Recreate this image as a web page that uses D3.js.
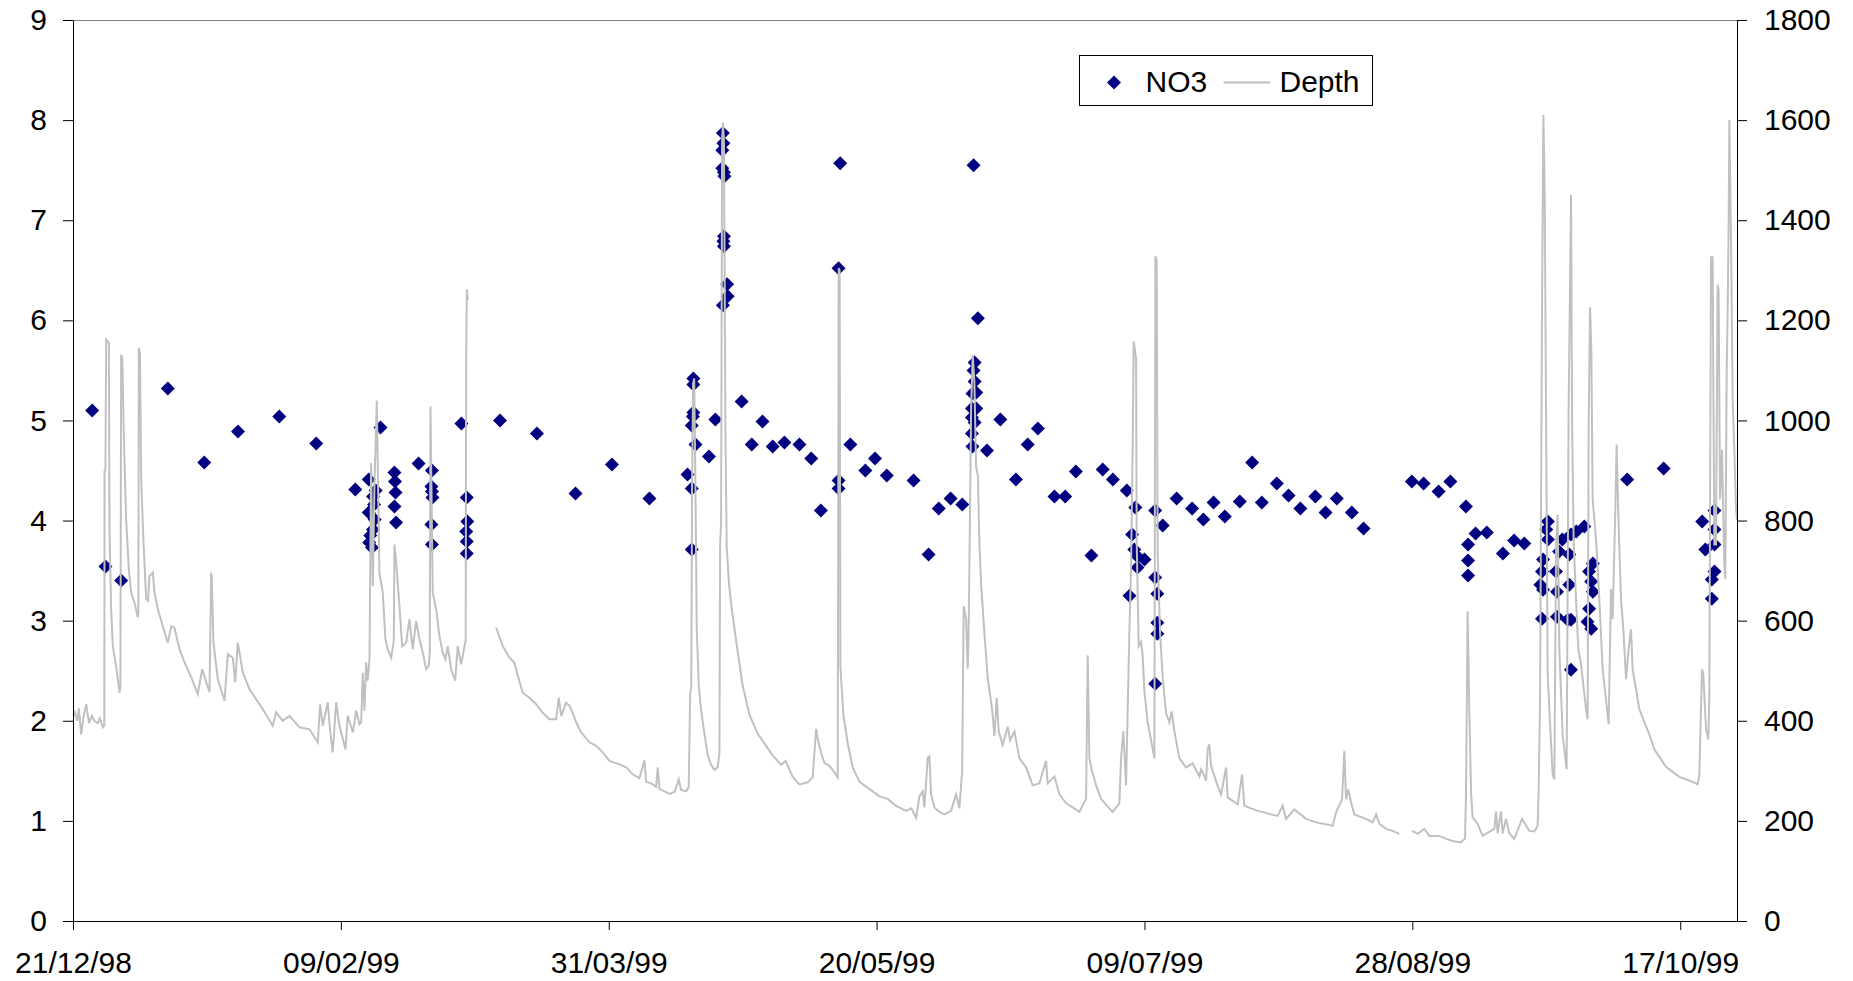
<!DOCTYPE html>
<html>
<head>
<meta charset="utf-8">
<script src="https://cdn.jsdelivr.net/npm/d3@7"></script>
<style>
  body { margin: 0; background: #fff; }
  #app svg { display: block; font-family: "Liberation Sans", Arial, sans-serif; }
</style>
</head>
<body>
<div id="app"></div>
<script>
// days are counted from 21/12/98
var startDate = '1998-12-21';
var xTickDates = ['1998-12-21', '1999-02-09', '1999-03-31', '1999-05-20', '1999-07-09', '1999-08-28', '1999-10-17'];
var no3Ticks = [0, 1, 2, 3, 4, 5, 6, 7, 8, 9];
var depthTicks = [0, 200, 400, 600, 800, 1000, 1200, 1400, 1600, 1800];
var lastDay = 310.6;

var no3Day = [
    3.58, 6.07, 9.0, 17.7, 24.5, 30.8, 38.5, 45.4, 52.7, 55.2,
    55.2, 55.3, 55.5, 55.8, 56.0, 56.0, 56.2, 56.3, 56.5, 57.4,
    60.0, 60.1, 60.2, 60.0, 60.3, 64.5, 67.0, 66.9, 67.0, 67.1,
    66.9, 67.0, 72.5, 73.5, 73.6, 73.4, 73.5, 73.5, 79.7, 86.6,
    93.8, 100.6, 107.6, 115.8, 115.8, 115.8, 115.7, 115.5, 116.2, 114.7,
    115.5, 115.5, 118.7, 119.9, 121.3, 121.4, 121.2, 121.2, 121.5, 121.6,
    121.5, 121.4, 121.5, 122.1, 122.2, 121.3, 124.8, 126.7, 128.7, 130.6,
    132.8, 135.6, 137.8, 139.6, 142.9, 143.2, 142.9, 142.9, 145.1, 147.9,
    149.7, 151.9, 156.9, 159.7, 161.6, 163.8, 166.0, 168.1, 168.9, 168.3,
    168.1, 168.3, 167.9, 168.6, 167.8, 168.6, 167.8, 168.3, 167.8, 167.9,
    170.6, 173.1, 176.0, 178.2, 180.1, 183.2, 185.2, 187.2, 190.1, 192.2,
    194.1, 196.7, 198.3, 197.7, 198.1, 198.7, 200.0, 198.7, 197.2, 202.0,
    203.4, 202.0, 202.4, 202.4, 202.4, 202.0, 206.0, 208.9, 211.0, 212.9,
    215.0, 217.8, 220.1, 221.9, 224.7, 226.9, 229.1, 231.9, 233.8, 235.9,
    238.7, 240.9, 249.9, 252.1, 254.9, 257.1, 260.0, 260.4, 260.4, 260.4,
    261.8, 263.9, 266.9, 269.0, 270.9, 275.3, 275.0, 275.3, 274.4, 274.2,
    273.9, 274.4, 274.2, 276.8, 277.0, 277.0, 278.0, 279.6, 280.6, 277.4,
    279.3, 279.3, 279.6, 279.0, 279.6, 282.1, 283.7, 283.0, 283.4, 283.7,
    283.0, 282.7, 283.4, 290.1, 296.9, 304.1, 306.4, 306.4, 304.7, 306.4,
    306.4, 305.9, 305.9
];
var no3Value = [
    5.10, 3.54, 3.40, 5.32, 4.58, 4.89, 5.04, 4.77, 4.31, 4.41,
    4.08, 3.78, 3.85, 3.73, 4.24, 3.91, 4.16, 4.01, 4.30, 4.93,
    4.48, 4.39, 4.28, 4.14, 3.98, 4.57, 4.50, 4.34, 4.29, 4.23,
    3.96, 3.76, 4.97, 4.23, 3.99, 3.89, 3.79, 3.67, 5.00, 4.87,
    4.27, 4.56, 4.22, 5.42, 5.36, 5.08, 5.04, 4.95, 4.76, 4.46,
    4.32, 3.71, 4.64, 5.01, 7.87, 7.77, 7.70, 7.52, 7.48, 7.44,
    6.84, 6.79, 6.74, 6.36, 6.24, 6.15, 5.19, 4.76, 4.99, 4.74,
    4.78, 4.76, 4.62, 4.10, 6.52, 7.57, 4.40, 4.32, 4.76, 4.50,
    4.62, 4.45, 4.40, 3.66, 4.12, 4.22, 4.16, 7.55, 6.02, 5.58,
    5.50, 5.39, 5.27, 5.28, 5.12, 5.12, 5.03, 4.98, 4.87, 4.74,
    4.70, 5.01, 4.41, 4.76, 4.92, 4.24, 4.24, 4.49, 3.65, 4.51,
    4.41, 4.30, 4.13, 3.86, 3.71, 3.64, 3.61, 3.53, 3.25, 4.10,
    3.95, 3.43, 3.27, 2.98, 2.87, 2.37, 4.22, 4.12, 4.01, 4.18,
    4.04, 4.19, 4.58, 4.18, 4.37, 4.25, 4.12, 4.24, 4.08, 4.22,
    4.08, 3.92, 4.39, 4.37, 4.29, 4.39, 4.14, 3.76, 3.60, 3.45,
    3.87, 3.88, 3.67, 3.80, 3.77, 3.99, 3.91, 3.81, 3.61, 3.49,
    3.36, 3.31, 3.02, 3.49, 3.29, 3.04, 3.81, 3.86, 3.89, 3.69,
    3.66, 3.36, 3.01, 3.01, 2.51, 3.94, 3.57, 3.49, 3.39, 3.29,
    3.12, 2.99, 2.92, 4.41, 4.52, 3.99, 4.10, 3.91, 3.71, 3.76,
    3.49, 3.41, 3.22
];

// null marks a gap in the logger record
var depthDay = [
    0.1, 0.28, 0.8, 1.1, 1.53, 2.0, 2.46, 3.0, 3.5, 4.0,
    4.6, 5.0, 5.57, 5.85, 5.88, 6.05, 6.19, 6.69, 6.81, 7.12,
    7.43, 8.05, 8.68, 8.85, 8.99, 9.2, 9.49, 9.92, 10.42, 10.86,
    11.48, 12.1, 12.2, 12.28, 12.5, 12.73, 13.16, 13.66, 14.0, 14.28,
    14.9, 15.21, 15.83, 16.76, 17.69, 18.33, 18.94, 19.88, 20.81, 22.06,
    23.29, 24.11, 24.86, 25.48, 25.79, 25.9, 26.22, 27.03, 28.28, 28.9,
    29.83, 30.27, 30.76, 31.69, 32.94, 34.19, 35.43, 37.29, 37.92, 39.16,
    40.41, 42.27, 44.14, 45.69, 46.13, 46.62, 47.55, 48.0, 48.48, 49.12,
    49.74, 50.86, 51.29, 52.22, 52.86, 53.47, 53.79, 54.09, 54.4, 54.72,
    55.0, 55.34, 55.65, 55.96, 56.27, 56.7, 57.2, 57.82, 58.32, 58.75,
    59.39, 59.88, 60.0, 60.32, 60.94, 61.44, 62.19, 62.8, 63.42, 64.05,
    64.67, 65.29, 65.92, 66.41, 66.6, 66.72, 67.15, 67.78, 68.4, 69.02,
    69.52, 69.95, 70.58, 71.33, 71.82, 72.45, 73.07, 73.3, 73.38, 73.5,
    73.68, 73.9,
    78.98, 80.22, 81.47, 82.4, 83.02, 83.95, 85.2, 86.45,
    87.68, 88.93, 90.18, 90.67, 91.12, 92.05, 92.67, 93.28, 93.91, 94.85,
    96.4, 97.65, 98.88, 100.13, 102.0, 103.25, 104.48, 105.73, 106.66, 106.98,
    107.91, 108.84, 109.15, 109.46, 110.4, 111.33, 112.3, 113.07, 113.5, 114.44,
    114.93, 115.19, 115.4, 115.56, 115.75, 115.95, 116.18, 116.43, 116.8, 117.24,
    117.86, 118.48, 119.1, 119.73, 120.34, 120.66, 120.79, 120.97, 121.16, 121.3,
    121.5, 121.78, 122.02, 122.4, 122.84, 123.46, 124.08, 125.01, 126.26, 127.81,
    129.37, 130.61, 132.17, 133.0, 134.34, 135.59, 137.14, 138.07, 138.71, 139.0,
    139.64, 140.26, 141.2, 142.12, 142.74, 142.93, 143.1, 143.24, 143.8, 144.61,
    145.54, 146.79, 148.65, 150.52, 152.07, 153.64, 155.5, 156.5, 157.37, 157.99,
    158.6, 158.92, 159.24, 159.54, 159.85, 160.17, 160.79, 161.72, 162.65, 163.9,
    164.84, 165.45, 165.96, 166.26, 166.71, 167.0, 167.15, 167.32, 167.51, 167.64,
    167.94, 168.25, 168.57, 168.9, 169.19, 169.5, 170.12, 170.73, 171.56, 171.99,
    172.42, 172.79, 173.54, 174.47, 174.92, 175.72, 176.65, 177.9, 179.13, 180.38,
    181.63, 181.93, 183.18, 184.12, 185.37, 186.6, 187.85, 189.1, 189.4, 189.72,
    190.2, 190.97, 191.9, 193.0, 194.06, 195.31, 195.63, 196.06, 196.56, 197.18,
    197.5, 197.8, 197.99, 198.43, 198.55, 198.92, 199.37, 199.66, 199.98, 200.6,
    201.23, 201.85, 202.04, 202.28, 202.46, 202.91, 203.4, 204.03, 204.65, 205.08,
    205.58, 206.51, 207.76, 208.99, 210.25, 210.56, 211.18, 211.5, 211.8, 212.11,
    212.43, 213.66, 214.3, 215.23, 215.53, 217.4, 218.22, 218.65, 221.13, 222.38,
    223.63, 224.86, 225.79, 226.43, 227.98, 230.16, 232.03, 233.58, 235.12, 235.76,
    236.88, 237.31, 237.63, 238.05, 238.56, 239.17, 241.36, 242.59, 243.23, 243.84,
    245.09, 246.32, 247.57, 248.5,
    249.94, 250.99, 252.24, 253.17, 255.04, 256.29,
    257.52, 259.09, 259.84, 260.02, 260.32, 260.63, 260.96, 261.25, 262.19, 263.12,
    263.76, 265.3, 265.62, 265.92, 266.55, 266.85, 267.49, 268.1, 269.04, 270.47,
    271.84, 272.77, 273.38, 273.58, 273.84, 274.21, 274.46, 274.7, 274.83, 275.26,
    275.71, 276.19, 276.5, 276.83, 277.12, 277.44, 278.05, 278.8, 279.17, 279.62,
    279.81, 280.1, 280.55, 280.98, 281.49, 282.42, 282.72, 282.91, 283.17, 283.41,
    283.66, 284.29, 284.9, 285.52, 286.15, 286.64, 287.08, 287.38, 287.89, 288.13,
    288.5, 288.95, 289.38, 289.89, 290.37, 290.82, 291.12, 291.75, 292.37, 293.3,
    294.23, 295.17, 296.42, 297.35, 298.6, 299.83, 301.08, 302.31, 303.25, 303.57,
    304.07, 304.31, 304.82, 305.24, 305.43, 305.75, 306.05, 306.37, 306.68, 306.98,
    307.17, 307.43, 307.8, 308.23, 308.42, 308.67, 308.86, 309.04, 309.17, 309.49,
    309.79, 310.1, 310.42, 310.6
];
var depthValue = [
    410, 420, 400, 425, 373, 410, 433, 395, 410, 400,
    395, 405, 387, 390, 899, 900, 1161, 1155, 782, 623,
    549, 509, 456, 470, 1131, 1125, 968, 802, 702, 656,
    636, 607, 620, 1145, 1135, 882, 756, 643, 640, 689,
    696, 656, 623, 589, 556, 589, 586, 543, 517, 487,
    453, 503, 477, 457, 692, 690, 556, 483, 440, 533,
    526, 477, 556, 497, 463, 443, 423, 390, 417, 400,
    410, 387, 383, 357, 433, 390, 437, 380, 337, 437,
    390, 343, 410, 377, 420, 393, 397, 496, 420, 517,
    480, 523, 915, 669, 869, 1040, 696, 656, 563, 543,
    526, 560, 752, 716, 629, 549, 556, 603, 543, 599,
    563, 536, 503, 510, 540, 1028, 656, 623, 569, 536,
    523, 549, 503, 480, 549, 513, 549, 560, 1100, 1262,
    1240, null,
    586, 549, 526, 516, 490, 456, 446, 433,
    416, 403, 403, 446, 410, 436, 430, 416, 397, 377,
    357, 350, 337, 320, 313, 307, 293, 285, 321, 278,
    275, 268, 307, 264, 259, 254, 258, 283, 262, 259,
    268, 451, 470, 873, 1074, 1084, 873, 585, 470, 422,
    374, 331, 312, 302, 307, 336, 748, 796, 1554, 1595,
    1560, 988, 748, 681, 633, 585, 537, 470, 412, 374,
    350, 331, 312, 320, 288, 273, 277, 287, 384, 364,
    336, 316, 310, 297, 287, 1304, 1300, 508, 412, 355,
    307, 278, 264, 249, 244, 230, 220, 225, 206, 249,
    259, 227, 277, 326, 329, 253, 227, 218, 213, 220,
    253, 225, 298, 629, 603, 504, 560, 710, 889, 1023,
    1131, 1077, 907, 890, 755, 674, 576, 486, 423, 370,
    446, 379, 352, 388, 361, 379, 325, 307, 271, 275,
    320, 275, 289, 253, 235, 227, 218, 244, 531, 325,
    300, 271, 244, 230, 218, 235, 325, 379, 271, 576,
    710, 952, 1158, 1122, 755, 549, 558, 531, 459, 397,
    361, 325, 1328, 1320, 737, 576, 486, 415, 397, 419,
    379, 325, 307, 315, 289, 303, 290, 280, 343, 353,
    310, 270, 253, 307, 247, 233, 293, 230, 220, 217,
    213, 210, 230, 204, 223, 204, 197, 194, 190, 217,
    243, 340, 243, 263, 237, 213, 204, 197, 213, 194,
    184, 180, 174, null,
    180, 174, 184, 170, 170, 164,
    160, 157, 165, 257, 619, 423, 257, 207, 194, 170,
    174, 184, 219, 175, 219, 175, 204, 175, 164, 204,
    180, 179, 190, 263, 443, 1231, 1610, 1461, 1241, 493,
    393, 293, 283, 742, 812, 543, 373, 303, 1022, 1451,
    1002, 762, 643, 543, 513, 423, 403, 992, 1226, 1141,
    842, 762, 643, 503, 443, 393, 663, 603, 822, 952,
    792, 643, 583, 483, 543, 583, 503, 463, 423, 398,
    373, 343, 323, 308, 298, 288, 283, 278, 273, 293,
    503, 493, 383, 363, 443, 1326, 1326, 752, 752, 1271,
    1260, 842, 942, 712, 683, 1092, 1221, 1391, 1600, 1361,
    1042, 942, 822, 802
];

var width = 1853,
    height = 981,
    plotLeft = 73,
    plotRight = 1737,
    plotTop = 20,
    plotBottom = 921;

var t0 = new Date(startDate + 'T00:00:00Z');
function dayToDate(d) {
    return new Date(t0.getTime() + d * 864e5);
}

var svg = d3
    .select('#app')
    .append('svg')
    .attr('width', width)
    .attr('height', height)
    .style('background', '#fff');

var xScale = d3.scaleUtc().domain([t0, dayToDate(lastDay)]).range([plotLeft, plotRight]);
var yNo3 = d3.scaleLinear().domain([0, 9]).range([plotBottom, plotTop]);
var yDepth = d3.scaleLinear().domain([0, 1800]).range([plotBottom, plotTop]);

// plot area frame (grey), axes drawn over it
svg.append('rect')
    .attr('x', plotLeft + 0.5)
    .attr('y', plotTop + 0.5)
    .attr('width', plotRight - plotLeft)
    .attr('height', plotBottom - plotTop)
    .attr('fill', 'none')
    .attr('stroke', '#808080')
    .attr('stroke-width', 1);

var no3Data = no3Day.map(function (d, i) {
    return { date: dayToDate(d), value: no3Value[i] };
});
var depthData = depthDay.map(function (d, i) {
    return { date: dayToDate(d), value: depthValue[i] };
});

var diamond = d3.symbol().type(d3.symbolSquare).size(98);

svg.append('g')
    .selectAll('path')
    .data(no3Data)
    .enter()
    .append('path')
    .attr('d', diamond)
    .attr('transform', function (d) {
        return 'translate(' + xScale(d.date) + ',' + yNo3(d.value) + ') rotate(45)';
    })
    .attr('fill', '#000080');

var depthLine = d3
    .line()
    .defined(function (d) { return d.value !== null; })
    .x(function (d) { return xScale(d.date); })
    .y(function (d) { return yDepth(d.value); });

svg.append('path')
    .datum(depthData)
    .attr('d', depthLine)
    .attr('fill', 'none')
    .attr('stroke', '#c0c0c0')
    .attr('stroke-width', 2)
    .attr('stroke-linejoin', 'miter');

function styleAxis(g) {
    g.selectAll('path.domain').attr('stroke', '#000');
    g.selectAll('.tick line').attr('stroke', '#000');
    g.selectAll('text')
        .attr('fill', '#000')
        .style('font-size', '30px')
        .style('font-family', '"Liberation Sans", Arial, sans-serif');
}

svg.append('g')
    .attr('transform', 'translate(' + plotLeft + ',0)')
    .call(d3.axisLeft(yNo3).tickValues(no3Ticks).tickSize(10).tickSizeOuter(0).tickPadding(16))
    .call(styleAxis);

svg.append('g')
    .attr('transform', 'translate(' + plotRight + ',0)')
    .call(d3.axisRight(yDepth)
        .tickValues(depthTicks)
        .tickFormat(d3.format('d'))
        .tickSize(10)
        .tickSizeOuter(0)
        .tickPadding(17))
    .call(styleAxis);

svg.append('g')
    .attr('transform', 'translate(0,' + plotBottom + ')')
    .call(d3.axisBottom(xScale)
        .tickValues(xTickDates.map(function (s) { return new Date(s + 'T00:00:00Z'); }))
        .tickFormat(d3.utcFormat('%d/%m/%y'))
        .tickSize(9)
        .tickSizeOuter(0)
        .tickPadding(22))
    .call(styleAxis);

// legend
var legend = svg.append('g').attr('transform', 'translate(1079.5,55.5)');
legend.append('rect')
    .attr('width', 293)
    .attr('height', 50)
    .attr('fill', '#fff')
    .attr('stroke', '#000');
legend.append('path')
    .attr('d', diamond)
    .attr('transform', 'translate(34.5,27) rotate(45)')
    .attr('fill', '#000080');
legend.append('text')
    .attr('x', 66)
    .attr('y', 36.5)
    .text('NO3')
    .style('font-size', '30px');
legend.append('line')
    .attr('x1', 144)
    .attr('x2', 191)
    .attr('y1', 27)
    .attr('y2', 27)
    .attr('stroke', '#c0c0c0')
    .attr('stroke-width', 2);
legend.append('text')
    .attr('x', 200)
    .attr('y', 36.5)
    .text('Depth')
    .style('font-size', '30px');
</script>
</body>
</html>
